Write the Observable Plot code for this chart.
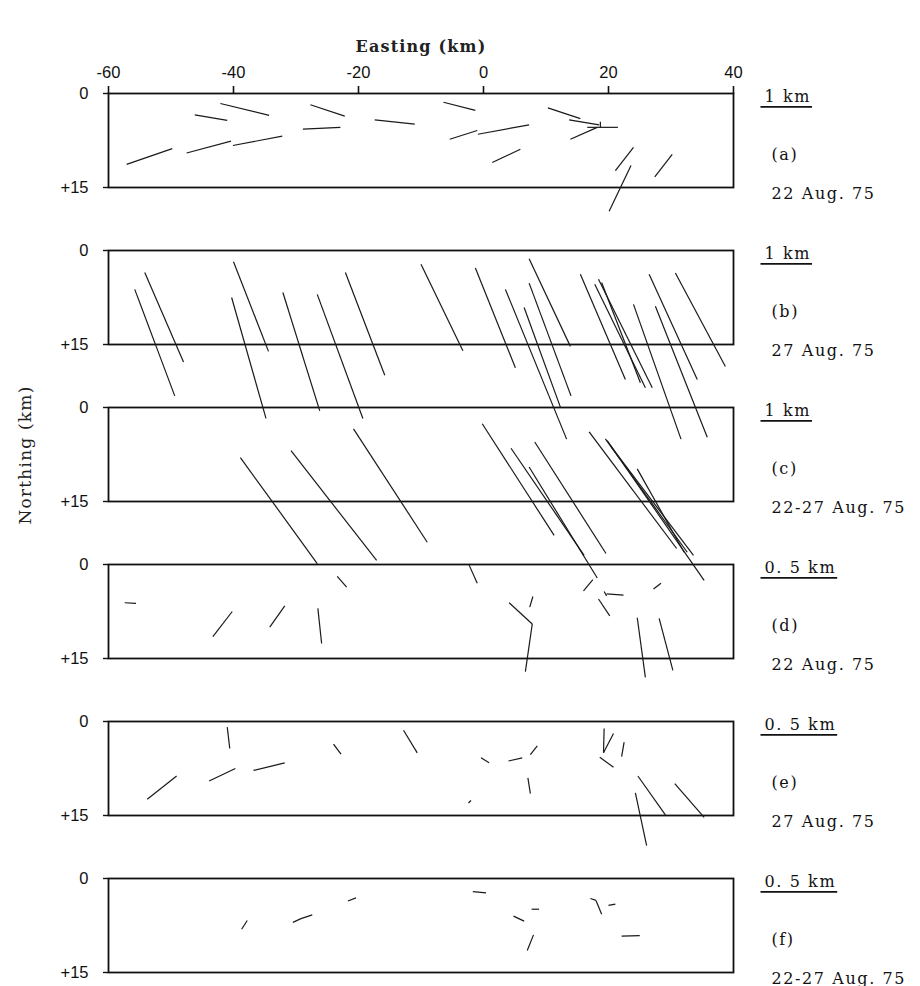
<!DOCTYPE html>
<html><head><meta charset="utf-8">
<script src="https://cdn.jsdelivr.net/npm/d3@7"></script>
<script src="https://cdn.jsdelivr.net/npm/@observablehq/plot@0.6"></script>
<style>
body{margin:0;background:#fff}
#chart{width:920px;height:986px}
</style>
</head><body><div id="chart"></div>
<script>
// ---- axis ticks & panel labels ----
const xTicks = [-60, -40, -20, 0, 20, 40];
const yTicks = [0, 15];
const panels = ["a", "b", "c", "d", "e", "f"];
const panelLetters = ["(a)", "(b)", "(c)", "(d)", "(e)", "(f)"];
const panelDates = ["22 Aug. 75", "27 Aug. 75", "22-27 Aug. 75", "22 Aug. 75", "27 Aug. 75", "22-27 Aug. 75"];
const scaleLabels = ["1 km", "1 km", "1 km", "0. 5 km", "0. 5 km", "0. 5 km"];

// ---- segments per panel: [easting1, northing1, easting2, northing2] (km) ----
const segA = [
  [-46.2,3.4,-41.0,4.3], [-42.1,1.6,-34.3,3.5], [-27.7,1.8,-22.2,3.6], [-17.4,4.2,-11.0,4.9],
  [-6.4,1.4,-1.3,2.7], [-57.1,11.3,-49.8,8.8], [-47.5,9.5,-40.4,7.6], [-40.1,8.3,-32.2,6.8],
  [-28.9,5.7,-22.9,5.4], [-5.4,7.3,-1.0,5.9], [-0.9,6.5,7.3,5.0], [1.4,11.0,5.9,8.9],
  [10.3,2.3,15.5,4.0], [13.7,4.2,18.5,5.0], [16.6,5.4,21.5,5.4], [13.9,7.3,18.2,5.4],
  [18.7,4.5,18.7,5.4], [21.1,12.3,24.0,8.6], [20.1,18.8,23.6,11.5], [27.4,13.3,30.2,9.7]
];
const segB = [
  [-55.8,6.2,-49.4,23.2], [-54.2,3.5,-48.0,17.8], [-40.0,1.8,-34.4,16.1], [-40.3,7.5,-34.8,26.8],
  [-32.1,6.7,-26.2,25.6], [-26.6,7.0,-19.3,26.8], [-22.1,3.5,-15.8,19.9], [-10.0,2.2,-3.3,16.0],
  [-1.3,2.8,5.1,18.7], [7.3,1.3,13.9,15.3], [3.5,6.2,13.3,30.1], [6.5,9.1,12.3,25.0],
  [7.3,5.2,14.0,23.2], [15.5,3.8,22.7,20.6], [17.8,5.4,25.9,21.9], [18.4,4.6,27.0,21.9],
  [18.9,5.1,25.1,21.1], [24.0,8.6,31.6,30.1], [27.5,8.9,35.8,29.8], [26.5,3.8,34.2,20.6],
  [30.7,3.6,38.7,18.5]
];
const segC = [
  [-38.9,8.0,-26.6,24.9], [-30.8,6.9,-17.1,24.4], [-20.8,3.4,-9.0,21.5], [-0.2,2.6,11.3,20.4],
  [4.4,6.5,16.1,23.6], [8.2,5.5,19.6,23.3], [7.3,9.5,18.2,27.2], [16.9,3.9,30.9,22.5],
  [19.5,5.0,32.6,23.1], [19.8,5.3,35.3,27.6], [20.3,6.1,33.6,23.6], [24.6,9.8,32.1,23.1]
];
const segD = [
  [-57.4,6.1,-55.6,6.2], [-23.4,1.9,-21.9,3.6], [-2.3,0.1,-1.0,3.0], [-43.3,11.5,-40.2,7.5],
  [-34.2,10.0,-31.8,6.6], [-26.5,7.0,-25.9,12.6], [4.1,6.1,7.8,9.5], [7.8,9.5,6.7,17.1],
  [7.4,6.8,7.9,5.1], [16.0,4.2,17.5,2.4], [19.3,4.3,19.7,5.0], [19.7,4.7,22.4,4.9],
  [18.4,5.5,20.2,8.2], [27.2,3.9,28.4,3.0], [24.6,8.5,25.9,18.0], [28.1,8.6,30.3,16.9]
];
const segE = [
  [-41.0,0.9,-40.6,4.3], [-53.8,12.4,-49.1,8.7], [-43.9,9.5,-39.7,7.5], [-36.8,7.8,-31.8,6.6],
  [-24.0,3.6,-22.8,5.2], [-12.8,1.4,-10.6,5.0], [-0.4,5.8,0.9,6.6], [4.0,6.3,6.2,5.8],
  [7.5,5.3,8.6,3.9], [7.1,9.0,7.5,11.5], [-2.4,13.0,-2.0,12.6], [19.3,1.1,19.2,5.0],
  [19.2,5.0,20.8,1.9], [22.5,3.3,22.1,5.6], [18.6,5.7,20.8,7.3], [24.7,8.7,29.1,14.9],
  [24.3,11.4,26.1,19.8], [30.6,9.9,35.3,15.3]
];
const segF = [
  [-38.7,8.1,-37.8,6.7], [-30.5,7.0,-29.2,6.4], [-29.2,6.4,-27.4,5.8], [-21.7,3.6,-20.4,3.1],
  [-1.7,2.1,0.4,2.3], [4.8,6.0,6.5,6.8], [7.7,4.9,8.9,4.9], [7.0,11.5,8.0,9.0],
  [17.1,3.2,18.0,3.5], [18.0,3.5,18.9,5.7], [20.0,4.3,21.1,4.1], [22.1,9.2,25.0,9.1]
];

// ---- build tables ----
const segTable = [segA, segB, segC, segD, segE, segF].flatMap((segs, i) =>
  segs.map(([x1, y1, x2, y2]) => ({panel: panels[i], x1, y1, x2, y2})));
const info = panels.map((p, i) => ({panel: p, letter: panelLetters[i], date: panelDates[i], scale: scaleLabels[i]}));
const titles = [{panel: "a", label: "Easting (km)"}];
const yTitles = [{panel: "d", label: "Northing (km)"}];

const serif = "'DejaVu Serif', serif";
const sans = "'Liberation Sans', Arial, sans-serif";

const chart = Plot.plot({
  width: 920,
  height: 986,
  marginTop: 93,
  marginBottom: 14,
  marginLeft: 108,
  marginRight: 187,
  style: {fontFamily: serif, fontSize: "15px", color: "#111", background: "#fff", overflow: "visible"},
  x: {domain: [-60, 40]},
  y: {domain: [0, 15], reverse: true},
  fy: {domain: panels, paddingInner: 0.4013, paddingOuter: 0, axis: null, label: null},
  marks: [
    Plot.axisX({anchor: "top", ticks: xTicks, tickSize: 8, tickPadding: 8, tickFormat: d => String(d),
      label: null, fontSize: 16.5, fontFamily: sans, strokeWidth: 1.6, stroke: "#111", fill: "#111"}),
    Plot.axisY({anchor: "left", ticks: yTicks, tickSize: 5, tickPadding: 15,
      tickFormat: d => (d === 0 ? "0" : "+" + d), label: null, fontSize: 16.5, fontFamily: sans,
      strokeWidth: 1.4, stroke: "#111", fill: "#111"}),
    Plot.frame({stroke: "#111", strokeWidth: 1.8}),
    Plot.link(segTable, {x1: "x1", y1: "y1", x2: "x2", y2: "y2", fy: "panel",
      stroke: "#1a1a1a", strokeWidth: 1.2}),
    Plot.text(titles, {fy: "panel", text: "label", frameAnchor: "top", dy: -53,
      fontSize: 16, fontWeight: "bold", fontFamily: serif, fill: "#222"}),
    Plot.text(yTitles, {fy: "panel", text: "label", frameAnchor: "top-left", dx: -90, dy: -40,
      rotate: -90, fontSize: 17, fontFamily: serif, fill: "#222"}),
    Plot.text(info, {fy: "panel", text: "scale", frameAnchor: "top-right", dx: 31, dy: -3,
      textAnchor: "start", fontSize: 16, fontFamily: serif, fill: "#111"}),
    Plot.text(info, {fy: "panel", text: "letter", frameAnchor: "top-right", dx: 38, dy: 55,
      textAnchor: "start", fontSize: 16, fontFamily: serif, fill: "#111"}),
    Plot.text(info, {fy: "panel", text: "date", frameAnchor: "top-right", dx: 38, dy: 94,
      textAnchor: "start", fontSize: 16, fontFamily: serif, fill: "#111"})
  ]
});

document.getElementById("chart").appendChild(chart);

const rightTexts = new Set([...panelLetters, ...panelDates, ...scaleLabels]);
const scaleSet = new Set(scaleLabels);
const titleSet = new Set(["Easting (km)", "Northing (km)"]);
d3.select(chart).selectAll("text").each(function () {
  const s = this.textContent;
  if (rightTexts.has(s)) this.setAttribute("letter-spacing", "1.6");
  if (titleSet.has(s)) this.setAttribute("letter-spacing", "1.2");
});
// underline bars below the scale labels
d3.select(chart).selectAll("text").each(function () {
  if (!scaleSet.has(this.textContent)) return;
  const b = this.getBBox();
  const line = document.createElementNS("http://www.w3.org/2000/svg", "line");
  line.setAttribute("x1", b.x - 4);
  line.setAttribute("x2", b.x + b.width + 1);
  line.setAttribute("y1", b.y + b.height + 1);
  line.setAttribute("y2", b.y + b.height + 1);
  line.setAttribute("stroke", "#111");
  line.setAttribute("stroke-width", "1.6");
  const t = this.getAttribute("transform");
  if (t) line.setAttribute("transform", t);
  this.parentNode.appendChild(line);
});
</script>
</body></html>
